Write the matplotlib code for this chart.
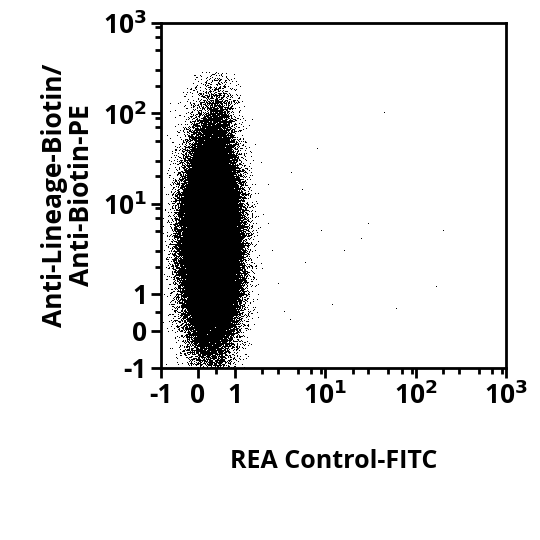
import numpy as np
import matplotlib
matplotlib.use("Agg")
import matplotlib.pyplot as plt
from matplotlib.scale import FuncScale

plt.rcParams["font.family"] = ["Open Sans", "DejaVu Sans"]
plt.rcParams["font.weight"] = "bold"

# axis ticks (data values) and labels
tick_values = [-1, 0, 1, 10, 100, 1000]
tick_labels = ["-1", "0", "1", r"10$^1$", r"10$^2$", r"10$^3$"]
x_label = "REA Control-FITC"
y_label = "Anti-Lineage-Biotin/\nAnti-Biotin-PE"

# main population (in decade units of the display scale)
pop_n = 150000
pop_x_center, pop_x_sd = -0.27, 0.14
pop_y_center, pop_y_sd = 0.55, 0.5
# sparse upper tail
tail_n = 3000
tail_y_center, tail_y_sd = 1.75, 0.3
# scattered single events (x, y values)
stray_x = [2.6, 3.5, 4.2, 5.5, 6.0, 9.0, 12, 16, 25, 30, 45, 170, 200, 8, 60, 3, 2.3, 4.1]
stray_y = [3.0, 0.5, 22, 14, 2.2, 5.0, 0.7, 3.0, 4.0, 6.0, 100, 1.2, 5.0, 40, 0.6, 1.3, 6.0, 0.3]

LIN = 0.41


def fwd(v):
    v = np.asarray(v, dtype=float)
    return np.where(v >= 1, np.log10(np.maximum(v, 1)), LIN * (v - 1))


def inv(d):
    d = np.asarray(d, dtype=float)
    return np.where(d >= 0, 10 ** np.maximum(d, 0), d / LIN + 1)


rng = np.random.default_rng(7)
dx = np.concatenate([rng.normal(pop_x_center, pop_x_sd, pop_n),
                     rng.normal(pop_x_center + 0.05, 0.11, tail_n)])
dy = np.concatenate([rng.normal(pop_y_center, pop_y_sd, pop_n),
                     rng.normal(tail_y_center, tail_y_sd, tail_n)])
keep = (dy > -0.85) & (dy < 2.45) & (dx > -0.8)
px, py = inv(dx[keep]), inv(dy[keep])

fig = plt.figure(figsize=(5.4, 5.4), dpi=100)
ax = fig.add_axes([0.298, 0.319, 0.639, 0.638])
ax.set_xscale(FuncScale(ax.xaxis, (fwd, inv)))
ax.set_yscale(FuncScale(ax.yaxis, (fwd, inv)))
ax.plot(px, py, ",", color="black")
ax.plot(stray_x, stray_y, ",", color="black")
ax.set_xlim(-1, 1000)
ax.set_ylim(-1, 1000)

minor = [0.5] + [m * 10 ** e for e in range(0, 3) for m in (2, 3, 5, 7, 9)]
for axis in (ax.xaxis, ax.yaxis):
    axis.set_ticks(tick_values)
    axis.set_ticklabels(tick_labels)
    axis.set_ticks(minor, minor=True)
    axis.set_minor_formatter(plt.NullFormatter())

ax.tick_params(which="major", length=7, width=2, labelsize=19, pad=3)
ax.tick_params(which="minor", length=4, width=2)
for s in ax.spines.values():
    s.set_linewidth(2)

ax.set_xlabel(x_label, fontsize=18, fontweight="bold", labelpad=28)
ax.set_ylabel(y_label, fontsize=19, fontweight="bold", labelpad=6, linespacing=1.0)

fig.savefig("out.png", dpi=100)
